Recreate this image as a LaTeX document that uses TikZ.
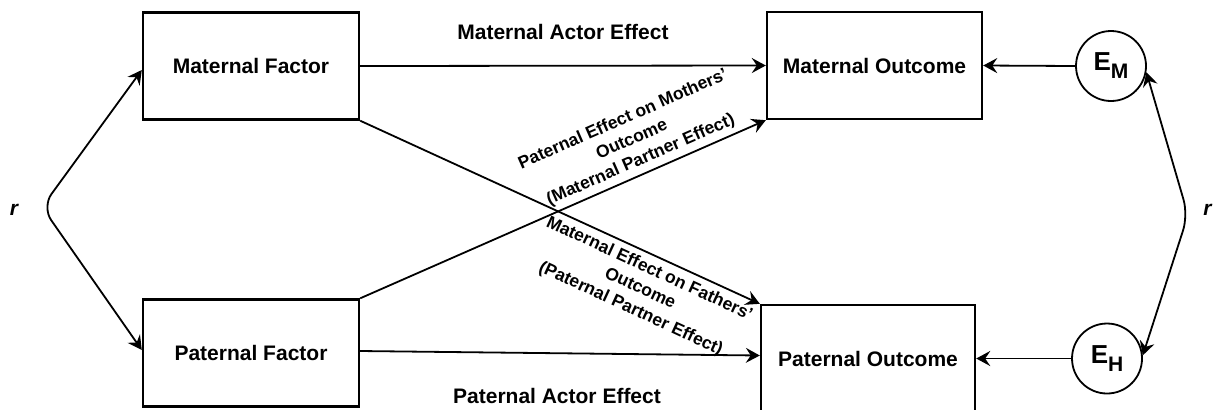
\documentclass[tikz,border=0pt]{standalone}
\usepackage{fontspec}
\setmainfont{Liberation Sans}
\usetikzlibrary{arrows.meta,calc}
\begin{document}
\begin{tikzpicture}[x=0.5pt,y=-0.5pt,
  box/.style={draw, line width=1.2pt, minimum width=108pt, minimum height=53.5pt, inner sep=0pt,
    font=\bfseries\fontsize{10.5}{12.6}\selectfont},
  errnode/.style={draw, circle, line width=0.9pt, minimum size=35pt, inner sep=0pt},
  conn/.style={line width=0.9pt, -{Stealth[length=7pt,width=7.5pt,inset=2.5pt]}},
  biconn/.style={line width=0.9pt, {Stealth[length=7pt,width=7.5pt,inset=2.5pt]}-{Stealth[length=7pt,width=7.5pt,inset=2.5pt]}, rounded corners=8pt},
  lbl/.style={font=\bfseries\fontsize{10.5}{12.6}\selectfont, inner sep=0pt},
  diag/.style={font=\bfseries\fontsize{8.75}{11}\selectfont, align=center, inner sep=0pt}
]
\useasboundingbox (0,0) rectangle (1213,409);
\clip (0,0) rectangle (1213,409);

\node[box] (MF) at (251,66) {Maternal Factor};
\node[box] (PF) at (251,353) {Paternal Factor};
\node[box, minimum width=107.5pt] (MO) at (874.5,65.5) {Maternal Outcome};
\node[box, minimum width=107pt] (PO) at (868,358.5) {Paternal Outcome};

\node[errnode] (EM) at (1111,66) {{\bfseries\fontsize{13}{13}\selectfont E}\raisebox{-4pt}{\bfseries\fontsize{10.5}{10.5}\selectfont M}};
\node[errnode] (EH) at (1107,358.5) {{\bfseries\fontsize{13}{13}\selectfont E}\raisebox{-4pt}{\bfseries\fontsize{10.5}{10.5}\selectfont H}};

% actor effects
\draw[conn] (MF.east) -- (MO.west)
  node[lbl, midway, above=12.5pt] (MAE) {Maternal Actor Effect};
\draw[conn] ([yshift=1pt]PF.east) -- ([yshift=1.5pt]PO.west)
  node[lbl, midway, below=17pt, xshift=-1.5pt] (PAE) {Paternal Actor Effect};

% partner effects
\draw[conn] (MF.south east) -- (PO.north west);
\draw[conn] (PF.north east) -- (MO.south west);

\node[diag, rotate=23.7] (PEM) at (632,140) {Paternal Effect on Mothers'\\Outcome\\(Maternal Partner Effect)};
\node[diag, rotate=-24.8] (MEF) at (640,289) {Maternal Effect on Fathers'\\Outcome\\(Paternal Partner Effect)};

% error terms
\draw[conn] (EM.west) -- (MO.east);
\draw[conn] (EH.west) -- (PO.east);

% correlations
\coordinate (rL) at (42,207);
\draw[biconn] ([yshift=-2pt]MF.west) -- (rL) -- ([yshift=1.5pt]PF.west);
\node[font=\bfseries\itshape\fontsize{10.5}{12.6}\selectfont, inner sep=0pt] (rLl) at (14,210) {r};

\coordinate (rR) at (1188,215);
\draw[biconn] (EM.-10) -- (rR) -- (EH.5);
\node[font=\bfseries\itshape\fontsize{10.5}{12.6}\selectfont, inner sep=0pt, anchor=west] (rRl) at (1203,210) {r};
\end{tikzpicture}
\end{document}
